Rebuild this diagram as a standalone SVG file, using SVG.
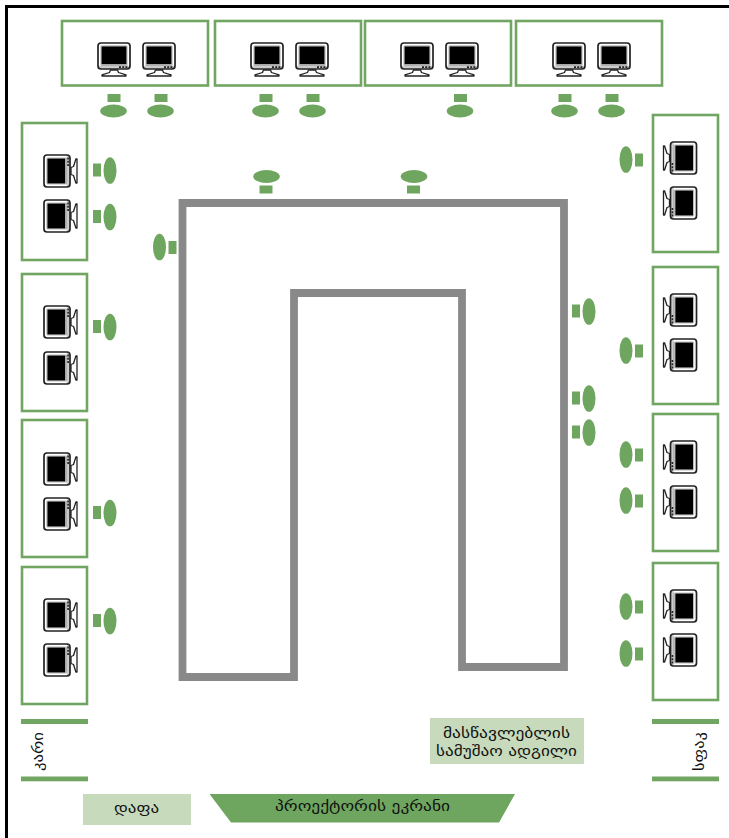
<svg xmlns="http://www.w3.org/2000/svg" xmlns:xlink="http://www.w3.org/1999/xlink" width="729" height="838" viewBox="0 0 729 838">
<style>
.box{fill:#fff;stroke:#70a662;stroke-width:2.6}
.ch{fill:#6fa65f}
.bar{fill:#70a662}
.lbl{fill:#c8dabc}
.wall{fill:none;stroke:#898989;stroke-width:7.8;stroke-linejoin:miter}
text{font-family:"DejaVu Sans","Noto Sans",sans-serif;font-size:15px;fill:#111;text-anchor:middle}
</style>
<defs>
<g id="mon">
<rect x="-16" y="-16.5" width="32" height="26" rx="3" fill="#fff" stroke="#222" stroke-width="1.7"/>
<rect x="-13.6" y="-14.2" width="27.2" height="20.8" rx="1.5" fill="#bbb" stroke="none"/>
<rect x="-12.4" y="-13" width="24.8" height="17.6" fill="#000"/>
<rect x="-16" y="6.2" width="32" height="3.3" fill="#333" opacity=".25"/>
<path d="M5 7.6H7M8.2 7.6H10.2M11.4 7.6H13.4" stroke="#222" stroke-width="1.6" fill="none"/>
<path d="M-3.5 10.5L-4.5 13L-12 15.4V16.5H12V15.4L4.5 13L3.5 10.5Z" fill="#fff" stroke="#222" stroke-width="1.3" stroke-linejoin="round"/>
</g>
<g id="ct"><rect x="-6.5" y="-17" width="13" height="8" class="ch"/><ellipse cx="-0.5" cy="0" rx="13.3" ry="6.5" class="ch"/></g>
</defs>
<g id="frame"><path d="M6.5 838V6.5H729" fill="none" stroke="#000" stroke-width="3"/></g>
<g id="walls"><path class="wall" d="M294 677H182.5V203H564V667H462V293H294Z"/></g>
<g id="top-desks">
<rect class="box" x="62" y="21" width="146" height="64.5"/><rect class="box" x="215" y="21" width="146" height="64.5"/><rect class="box" x="365" y="21" width="146" height="64.5"/><rect class="box" x="516" y="21" width="146" height="64.5"/>
<use xlink:href="#mon" x="114" y="59.5"/><use xlink:href="#mon" x="159" y="59.5"/><use xlink:href="#mon" x="267" y="59.5"/><use xlink:href="#mon" x="312" y="59.5"/><use xlink:href="#mon" x="417" y="59.5"/><use xlink:href="#mon" x="462" y="59.5"/><use xlink:href="#mon" x="569" y="59.5"/><use xlink:href="#mon" x="614" y="59.5"/>
</g>
<g id="top-chairs">
<use xlink:href="#ct" x="114" y="111"/><use xlink:href="#ct" x="161" y="111"/><use xlink:href="#ct" x="266" y="111"/><use xlink:href="#ct" x="313" y="111"/><use xlink:href="#ct" x="460.5" y="111"/><use xlink:href="#ct" x="565" y="111"/><use xlink:href="#ct" x="612" y="111"/>
</g>
<g id="inner-top-chairs">
<use xlink:href="#ct" transform="translate(266 176.5) rotate(180)"/><use xlink:href="#ct" transform="translate(413.5 176.5) rotate(180)"/>
</g>
<g id="left-desks">
<rect class="box" x="22" y="123" width="65" height="137"/><rect class="box" x="22" y="274" width="65" height="137"/><rect class="box" x="22" y="420" width="65" height="137"/><rect class="box" x="22" y="567" width="65" height="137"/>
<use xlink:href="#mon" transform="translate(60.5 171) rotate(-90)"/><use xlink:href="#mon" transform="translate(60.5 216) rotate(-90)"/><use xlink:href="#mon" transform="translate(60.5 322) rotate(-90)"/><use xlink:href="#mon" transform="translate(60.5 368) rotate(-90)"/><use xlink:href="#mon" transform="translate(60.5 469) rotate(-90)"/><use xlink:href="#mon" transform="translate(60.5 514) rotate(-90)"/><use xlink:href="#mon" transform="translate(60.5 615) rotate(-90)"/><use xlink:href="#mon" transform="translate(60.5 660) rotate(-90)"/>
</g>
<g id="left-chairs">
<use xlink:href="#ct" transform="translate(110 170) rotate(-90)"/><use xlink:href="#ct" transform="translate(110 216.5) rotate(-90)"/><use xlink:href="#ct" transform="translate(110 326.5) rotate(-90)"/><use xlink:href="#ct" transform="translate(110 512.5) rotate(-90)"/><use xlink:href="#ct" transform="translate(110 620.5) rotate(-90)"/>
<use xlink:href="#ct" transform="translate(589 311) rotate(-90)"/><use xlink:href="#ct" transform="translate(589 398) rotate(-90)"/><use xlink:href="#ct" transform="translate(589 432) rotate(-90)"/>
</g>
<g id="right-desks">
<rect class="box" x="653" y="115" width="65" height="137"/><rect class="box" x="653" y="267" width="65" height="137"/><rect class="box" x="653" y="414" width="65" height="137"/><rect class="box" x="653" y="563" width="65" height="137"/>
<use xlink:href="#mon" transform="translate(680 158) rotate(90)"/><use xlink:href="#mon" transform="translate(680 203) rotate(90)"/><use xlink:href="#mon" transform="translate(680 310) rotate(90)"/><use xlink:href="#mon" transform="translate(680 355) rotate(90)"/><use xlink:href="#mon" transform="translate(680 457) rotate(90)"/><use xlink:href="#mon" transform="translate(680 502) rotate(90)"/><use xlink:href="#mon" transform="translate(680 606) rotate(90)"/><use xlink:href="#mon" transform="translate(680 650) rotate(90)"/>
</g>
<g id="right-chairs">
<use xlink:href="#ct" transform="translate(626 160) rotate(90)"/><use xlink:href="#ct" transform="translate(626 351) rotate(90)"/><use xlink:href="#ct" transform="translate(626 455) rotate(90)"/><use xlink:href="#ct" transform="translate(626 501) rotate(90)"/><use xlink:href="#ct" transform="translate(626 607) rotate(90)"/><use xlink:href="#ct" transform="translate(626 654) rotate(90)"/>
<use xlink:href="#ct" transform="translate(159.5 247.5) rotate(90)"/>
</g>
<g id="door"><rect class="bar" x="21" y="719" width="67" height="5"/><rect class="bar" x="21" y="776.5" width="67" height="4.8"/><text transform="translate(43 751.5) rotate(-90)" textLength="39" lengthAdjust="spacingAndGlyphs">კარი</text></g>
<g id="right-door"><rect class="bar" x="652" y="719" width="67" height="5"/><rect class="bar" x="652" y="776.5" width="67" height="4.8"/><text transform="translate(704 751.5) rotate(-90)" textLength="39" lengthAdjust="spacingAndGlyphs">სფაკ</text></g>
<g id="teacher"><rect class="lbl" x="430" y="718" width="154" height="46"/><text x="506.5" y="737.5" textLength="127" lengthAdjust="spacingAndGlyphs">მასწავლებლის</text><text x="506.5" y="756" textLength="141" lengthAdjust="spacingAndGlyphs">სამუშაო ადგილი</text></g>
<g id="board"><rect class="lbl" x="83" y="794" width="108" height="31"/><text x="136.5" y="813" textLength="45" lengthAdjust="spacingAndGlyphs">დაფა</text></g>
<g id="screen"><path class="ch" d="M209.5 794H515L499 822.5H231Z"/><text x="362.5" y="811" textLength="175" lengthAdjust="spacingAndGlyphs">პროექტორის ეკრანი</text></g>
</svg>
